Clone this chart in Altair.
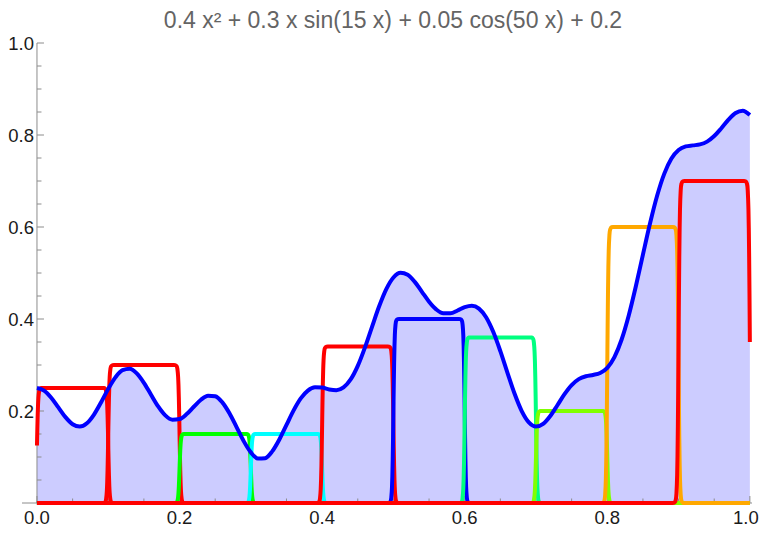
import altair as alt
import pandas as pd

# ---------------- data ----------------
X_GRID = [round(i / 100, 2) for i in range(101)]
F_VALUES = [
    0.25000, 0.24437, 0.22895, 0.20781, 0.18661, 0.17116, 0.16604, 0.17336, 0.19225, 0.21904,
    0.24810, 0.27317, 0.28883, 0.29182, 0.28179, 0.26134, 0.23538, 0.20990, 0.19048, 0.18097,
    0.18252, 0.19333, 0.20917, 0.22439, 0.23337, 0.23202, 0.21876, 0.19504, 0.16499, 0.13454,
    0.11004, 0.09670, 0.09745, 0.11222, 0.13805, 0.16978, 0.20140, 0.22745, 0.24442, 0.25152,
    0.25087, 0.24693, 0.24529, 0.25129, 0.26856, 0.29809, 0.33782, 0.38309, 0.42766, 0.46508,
    0.49026, 0.50054, 0.49628, 0.48074, 0.45915, 0.43749, 0.42088, 0.41246, 0.41252, 0.41855,
    0.42589, 0.42895, 0.42265, 0.40381, 0.37208, 0.33008, 0.28299, 0.23737, 0.19976, 0.17518,
    0.16608, 0.17184, 0.18908, 0.21255, 0.23652, 0.25625, 0.26918, 0.27556, 0.27839, 0.28261,
    0.29387, 0.31703, 0.35484, 0.40713, 0.47071, 0.53998, 0.60809, 0.66843, 0.71606, 0.74875,
    0.76729, 0.77513, 0.77741, 0.77951, 0.78563, 0.79769, 0.81474, 0.83324, 0.84784, 0.85277,
    0.84334,
]

STEP_STARTS = [0.0, 0.1, 0.2, 0.3, 0.4, 0.5, 0.6, 0.7, 0.8, 0.9]
STEP_ENDS = [0.1, 0.2, 0.3, 0.4, 0.5, 0.6, 0.7, 0.8, 0.9, 1.0]
STEP_HEIGHTS = [0.25, 0.30, 0.15, 0.15, 0.34, 0.40, 0.36, 0.20, 0.60, 0.70]
STEP_COLORS = ["#FF0000", "#FF0000", "#00FF00", "#00FFFF", "#FF0000",
               "#0000FF", "#00FF80", "#80FF00", "#FFA800", "#FF0000"]

# smooth edge profile of the step lines (shape only)
EDGE_DX = [-0.008, -0.006, -0.004, -0.003, -0.002, -0.0015, -0.001, -0.0005, 0.0,
           0.0005, 0.001, 0.0015, 0.002, 0.003, 0.004, 0.006, 0.008]
EDGE_FRAC = [0.0, 0.0009, 0.009, 0.029, 0.087, 0.146, 0.236, 0.357, 0.5,
             0.643, 0.764, 0.854, 0.913, 0.971, 0.991, 0.9991, 1.0]

Y_MAJOR = [0.2, 0.4, 0.6, 0.8, 1.0]
Y_LABELS = ["0.2", "0.4", "0.6", "0.8", "1.0"]
X_MAJOR = [0.0, 0.2, 0.4, 0.6, 0.8, 1.0]
X_LABELS = ["0.0", "0.2", "0.4", "0.6", "0.8", "1.0"]
MINOR = [0.05, 0.1, 0.15, 0.25, 0.3, 0.35, 0.45, 0.5, 0.55, 0.65, 0.7, 0.75, 0.85, 0.9, 0.95]

TITLE = "0.4 x\u00b2 + 0.3 x sin(15 x) + 0.05 cos(50 x) + 0.2"

# ---------------- layout ----------------
X_MIN, X_MAX = -0.021, 1.003
PLOT_W, PLOT_H = 730, 460
X0_PX = (0 - X_MIN) / (X_MAX - X_MIN) * PLOT_W
AXIS_GRAY = "#8c8c8c"
LABEL_COLOR = "#1a1a1a"
FONT = "Liberation Sans"

xs = alt.Scale(domain=[X_MIN, X_MAX], nice=False, zero=False)
ys = alt.Scale(domain=[0, 1], nice=False, zero=False)

f_df = pd.DataFrame({"x": X_GRID, "y": F_VALUES})

# build step series
step_rows = []
for s, (a, b, h, col) in enumerate(zip(STEP_STARTS, STEP_ENDS, STEP_HEIGHTS, STEP_COLORS)):
    pts = []
    if a > 0:
        pts.append((0.0, 0.0))
    for dx, fr in zip(EDGE_DX, EDGE_FRAC):
        if a + dx >= 0:
            pts.append((a + dx, h * fr))
    for dx, fr in zip(EDGE_DX, EDGE_FRAC):
        if b + dx <= 1.0:
            pts.append((b + dx, h * (1 - fr)))
    if b < 1.0:
        pts.append((1.0, 0.0))
    for i, (px, py) in enumerate(pts):
        step_rows.append({"s": s, "i": i, "x": px, "y": py, "c": col})
step_df = pd.DataFrame(step_rows)

area = alt.Chart(f_df).mark_area(color="#CCCCFF", interpolate="monotone").encode(
    x=alt.X("x:Q", scale=xs, axis=None),
    y=alt.Y("y:Q", scale=ys, axis=None),
)

x_axis_line = alt.Chart(pd.DataFrame({"a": [0]})).mark_rule(color=AXIS_GRAY, strokeWidth=1).encode(
    x=alt.X(datum=X_MIN, scale=xs, axis=None),
    x2=alt.X2(datum=X_MAX),
    y=alt.Y(datum=0, scale=ys, axis=None),
)
y_axis_line = alt.Chart(pd.DataFrame({"a": [0]})).mark_rule(color=AXIS_GRAY, strokeWidth=1).encode(
    x=alt.X(datum=0, scale=xs, axis=None),
    y=alt.Y(datum=0, scale=ys, axis=None),
    y2=alt.Y2(datum=1),
)

ymaj = alt.Chart(pd.DataFrame({"v": Y_MAJOR})).mark_rule(color=AXIS_GRAY).encode(
    y=alt.Y("v:Q", scale=ys, axis=None), x=alt.value(X0_PX), x2=alt.value(X0_PX + 7))
ymin = alt.Chart(pd.DataFrame({"v": MINOR})).mark_rule(color=AXIS_GRAY).encode(
    y=alt.Y("v:Q", scale=ys, axis=None), x=alt.value(X0_PX), x2=alt.value(X0_PX + 4.5))
xmaj = alt.Chart(pd.DataFrame({"v": X_MAJOR})).mark_rule(color=AXIS_GRAY).encode(
    x=alt.X("v:Q", scale=xs, axis=None), y=alt.value(PLOT_H), y2=alt.value(PLOT_H - 7))
xmin = alt.Chart(pd.DataFrame({"v": MINOR})).mark_rule(color=AXIS_GRAY).encode(
    x=alt.X("v:Q", scale=xs, axis=None), y=alt.value(PLOT_H), y2=alt.value(PLOT_H - 4.5))

ylab = alt.Chart(pd.DataFrame({"v": Y_MAJOR, "t": Y_LABELS})).mark_text(
    align="right", baseline="alphabetic", dy=6.5, fontSize=18.5, font=FONT, color=LABEL_COLOR
).encode(y=alt.Y("v:Q", scale=ys, axis=None), x=alt.value(X0_PX - 3), text="t:N")

xlab_df = pd.DataFrame({"v": X_MAJOR, "t": X_LABELS})
xlab_main = alt.Chart(xlab_df).transform_filter(alt.datum.v < 0.99).mark_text(
    align="center", baseline="alphabetic", fontSize=18.5, font=FONT, color=LABEL_COLOR
).encode(x=alt.X("v:Q", scale=xs, axis=None), y=alt.value(PLOT_H + 21), text="t:N")
# last label nudged so it stays inside the page
xlab_last = alt.Chart(xlab_df).transform_filter(alt.datum.v > 0.99).mark_text(
    align="center", baseline="alphabetic", fontSize=18.5, font=FONT, color=LABEL_COLOR, dx=-4
).encode(x=alt.X("v:Q", scale=xs, axis=None), y=alt.value(PLOT_H + 21), text="t:N")

step_layers = []
for s in range(len(STEP_HEIGHTS)):
    step_layers.append(
        alt.Chart(step_df).transform_filter(alt.datum.s == s).mark_line(
            strokeWidth=4, interpolate="monotone", strokeJoin="round", color=STEP_COLORS[s]
        ).encode(
            x=alt.X("x:Q", scale=xs, axis=None),
            y=alt.Y("y:Q", scale=ys, axis=None),
            order=alt.Order("i:Q"),
        )
    )

curve = alt.Chart(f_df).mark_line(color="#0000FF", strokeWidth=4, interpolate="monotone").encode(
    x=alt.X("x:Q", scale=xs, axis=None),
    y=alt.Y("y:Q", scale=ys, axis=None),
)

title = alt.Chart(pd.DataFrame({"t": [TITLE]})).mark_text(
    align="center", baseline="alphabetic", fontSize=23, font=FONT, color="#646464"
).encode(x=alt.value(371), y=alt.value(-15), text="t:N")

chart = alt.layer(
    area, x_axis_line, y_axis_line, ymaj, ymin, xmaj, xmin, ylab, xlab_main, xlab_last,
    *step_layers, curve, title
).properties(
    width=PLOT_W, height=PLOT_H,
    autosize=alt.AutoSizeParams(type="none"),
    padding={"left": 14, "top": 35, "right": 8, "bottom": 25},
).configure_view(stroke=None)

chart.save("out.html", embed_options={"renderer": "svg", "actions": False})
